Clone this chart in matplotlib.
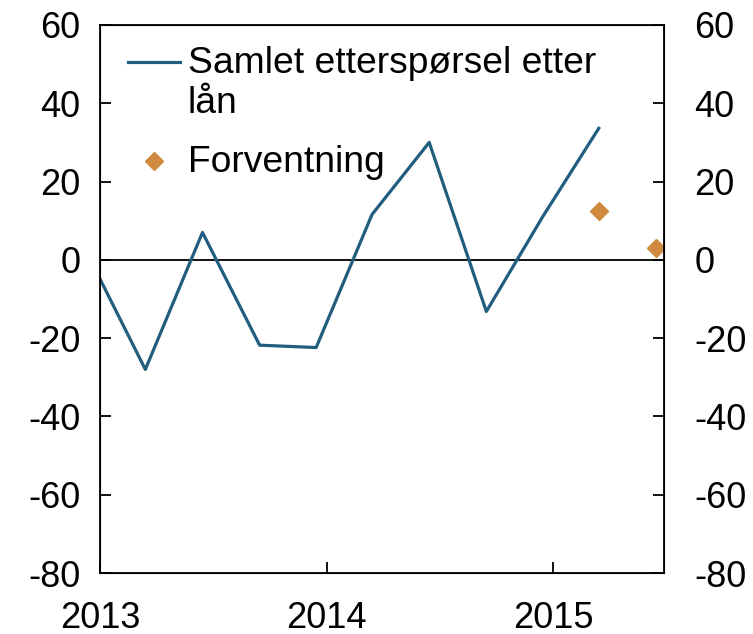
import matplotlib
matplotlib.use("Agg")
import matplotlib.pyplot as plt
import matplotlib.dates as mdates
import pandas as pd

plt.rcParams["font.family"] = ["Liberation Sans", "DejaVu Sans"]
plt.rcParams["axes.unicode_minus"] = False

dates = pd.to_datetime([
    "2012-12-15", "2013-03-15", "2013-06-15", "2013-09-15", "2013-12-15",
    "2014-03-15", "2014-06-15", "2014-09-15", "2014-12-15", "2015-03-15",
])
demand = [0.5, -28, 7, -21.8, -22.4, 11.6, 30, -13.2, 11.1, 33.6]

exp_dates = pd.to_datetime(["2015-03-15", "2015-06-15"])
expectation = [12.4, 2.9]

line_color = "#215d7e"
dot_color = "#d08a3f"

fig = plt.figure(figsize=(7.53, 6.34), dpi=100)
ax = fig.add_axes([0.1328, 0.0962, 0.7490, 0.8644])

ax.plot(dates, demand, color=line_color, lw=2.3, label="Samlet etterspørsel etter\nlån")
ax.plot(exp_dates, expectation, linestyle="none", marker="D", markersize=9,
        color=dot_color, label="Forventning")
ax.axhline(0, color="black", lw=1.3, zorder=1)

ax.set_xlim(pd.Timestamp("2013-01-01"), pd.Timestamp("2015-06-28"))
ax.set_ylim(-80, 60)
ax.set_yticks(range(-80, 61, 20))
ax.xaxis.set_major_locator(mdates.YearLocator())
ax.xaxis.set_major_formatter(mdates.DateFormatter("%Y"))

for s in ax.spines.values():
    s.set_linewidth(1.3)

ax.tick_params(axis="both", direction="in", length=8, width=1.3, labelsize=26)
ax.tick_params(axis="x", pad=20)
ax.tick_params(axis="y", pad=14)

ax2 = ax.twinx()
ax2.set_ylim(-80, 60)
ax2.set_yticks(range(-80, 61, 20))
ax2.tick_params(axis="y", direction="in", length=8, width=1.3, labelsize=26, pad=22)

leg = ax.legend(loc="upper left", bbox_to_anchor=(0.05, 0.962), frameon=False,
                fontsize=26.8, handlelength=1.4, handleheight=1.2, handletextpad=0.2,
                labelspacing=0.65, borderaxespad=0, borderpad=0)
# put the legend handle next to the first line of a wrapped label
for col in leg._legend_handle_box.get_children():
    for row in col.get_children():
        row.align = "top"

fig.savefig("out.png", dpi=100)
